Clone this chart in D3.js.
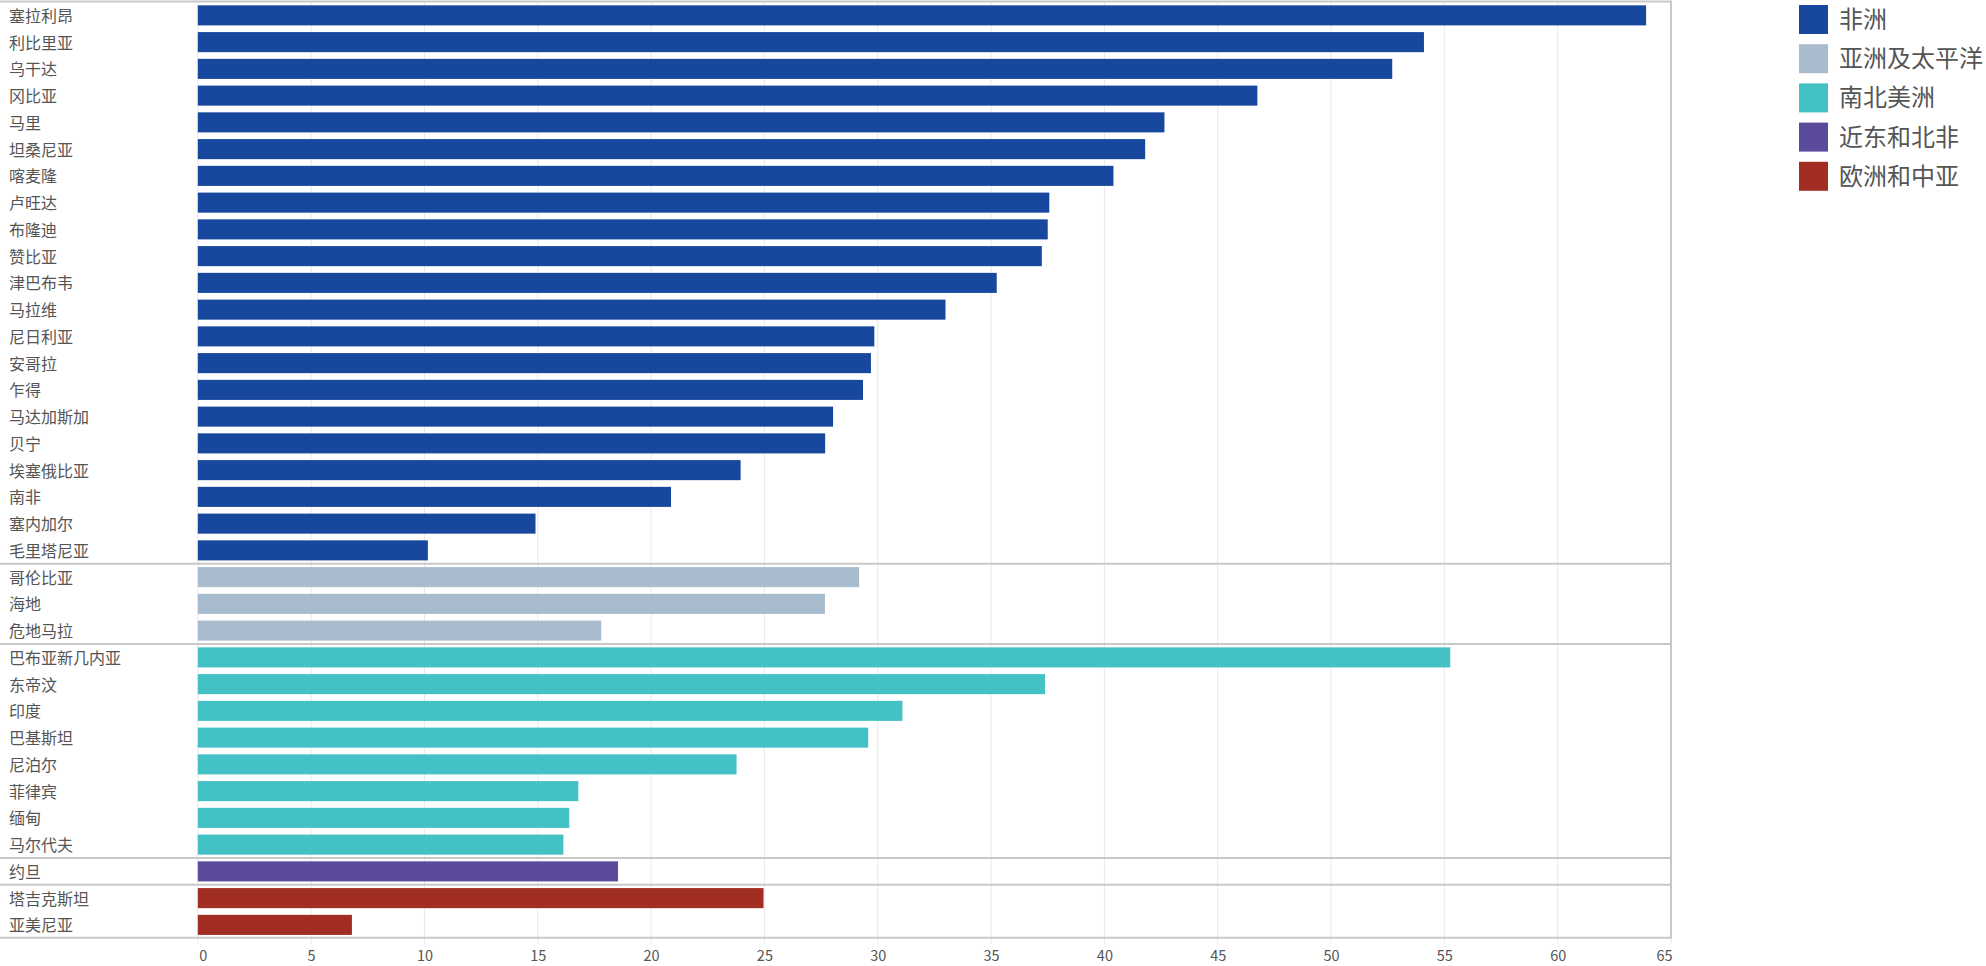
<!DOCTYPE html>
<html>
<head>
<meta charset="utf-8">
<script src="https://cdn.jsdelivr.net/npm/d3@7"></script>
<style>
  html, body { margin: 0; padding: 0; background: #fff; }
  svg { display: block; }
  text { font-family: "Noto Sans CJK SC", "Open Sans", sans-serif; }
</style>
</head>
<body>
<svg id="chart" width="1986" height="966"></svg>
<script>
// ---- data ----
const regions = ["非洲", "亚洲及太平洋", "南北美洲", "近东和北非", "欧洲和中亚"];
const regionColors = ["#17489d", "#a8bccd", "#44c1c5", "#5c4a9d", "#a22d23"];

const africaCountries = ["塞拉利昂","利比里亚","乌干达","冈比亚","马里","坦桑尼亚","喀麦隆","卢旺达","布隆迪","赞比亚","津巴布韦","马拉维","尼日利亚","安哥拉","乍得","马达加斯加","贝宁","埃塞俄比亚","南非","塞内加尔","毛里塔尼亚"];
const africaValues = [63.9, 54.1, 52.7, 46.75, 42.65, 41.8, 40.4, 37.57, 37.5, 37.24, 35.25, 32.99, 29.85, 29.7, 29.35, 28.03, 27.68, 23.95, 20.88, 14.9, 10.15];

const asiaPacCountries = ["哥伦比亚","海地","危地马拉"];
const asiaPacValues = [29.18, 27.67, 17.8];

const americasCountries = ["巴布亚新几内亚","东帝汶","印度","巴基斯坦","尼泊尔","菲律宾","缅甸","马尔代夫"];
const americasValues = [55.26, 37.38, 31.09, 29.58, 23.77, 16.79, 16.39, 16.13];

const nearEastCountries = ["约旦"];
const nearEastValues = [18.54];

const europeCountries = ["塔吉克斯坦","亚美尼亚"];
const europeValues = [24.96, 6.8];

const xTicks = [0,5,10,15,20,25,30,35,40,45,50,55,60,65];

// ---- build rows ----
const groups = [
  {region: regions[0], countries: africaCountries, values: africaValues},
  {region: regions[1], countries: asiaPacCountries, values: asiaPacValues},
  {region: regions[2], countries: americasCountries, values: americasValues},
  {region: regions[3], countries: nearEastCountries, values: nearEastValues},
  {region: regions[4], countries: europeCountries, values: europeValues}
];
const rows = [];
groups.forEach(g => g.countries.forEach((c, i) => rows.push({country: c, value: g.values[i], region: g.region})));

const color = d3.scaleOrdinal().domain(regions).range(regionColors);

const svg = d3.select("#chart");
const panelLeft = 0, panelRight = 1671, panelTop = 1.5, panelBottom = 937.75;

const x = d3.scaleLinear().domain([0, 65]).range([197.8, 1671]);
const y = d3.scaleBand().domain(rows.map(d => d.country)).range([panelTop + 0.5, panelBottom + 0.5])
  .paddingInner(0.25).paddingOuter(0.125);

// gridlines
svg.append("g").selectAll("line").data(xTicks).join("line")
  .attr("x1", d => x(d)).attr("x2", d => x(d))
  .attr("y1", panelTop).attr("y2", panelBottom + 6)
  .attr("stroke", "#e9e9e9").attr("stroke-width", 1);

// bars
svg.append("g").selectAll("rect").data(rows).join("rect")
  .attr("x", x(0))
  .attr("y", d => y(d.country))
  .attr("width", d => x(d.value) - x(0))
  .attr("height", y.bandwidth())
  .attr("fill", d => color(d.region));

// group separators + top/bottom
const gap = (y.step() - y.bandwidth()) / 2;
const sepYs = [panelTop];
let idx = 0;
groups.forEach((g, gi) => {
  idx += g.countries.length;
  if (gi < groups.length - 1) sepYs.push(y(rows[idx].country) - gap);
});
sepYs.push(panelBottom);
svg.append("g").selectAll("line").data(sepYs).join("line")
  .attr("x1", panelLeft).attr("x2", panelRight)
  .attr("y1", d => d).attr("y2", d => d)
  .attr("stroke", "#c8c8c8").attr("stroke-width", 2);

// right border
svg.append("line")
  .attr("x1", panelRight).attr("x2", panelRight)
  .attr("y1", panelTop - 1).attr("y2", panelBottom + 1)
  .attr("stroke", "#c8c8c8").attr("stroke-width", 2);

// category labels
svg.append("g").selectAll("text").data(rows).join("text")
  .attr("x", 9)
  .attr("y", d => y(d.country) + y.bandwidth() / 2 + 1)
  .attr("dy", "0.35em")
  .attr("font-size", 16)
  .attr("fill", "#555")
  .text(d => d.country);

// x axis
const xAxis = d3.axisBottom(x).tickValues(xTicks).tickSize(0).tickPadding(0);
const gx = svg.append("g").attr("transform", `translate(0, ${panelBottom})`).call(xAxis);
gx.select(".domain").remove();
gx.selectAll(".tick text")
  .attr("y", 18.5)
  .attr("dy", "0.35em")
  .attr("font-size", 14.5)
  .attr("font-family", "'Open Sans', sans-serif")
  .attr("fill", "#555")
  .attr("dx", d => d === 0 ? 5 : (d === 65 ? -7 : 0));

// legend
const legend = svg.append("g").attr("transform", "translate(1799, 5)");
const li = legend.selectAll("g").data(regions).join("g")
  .attr("transform", (d, i) => `translate(0, ${i * 39.2})`);
li.append("rect").attr("width", 29).attr("height", 29).attr("fill", d => color(d));
li.append("text").attr("x", 40).attr("y", 14.5).attr("dy", "0.35em")
  .attr("font-size", 24).attr("fill", "#555").text(d => d);
</script>
</body>
</html>
